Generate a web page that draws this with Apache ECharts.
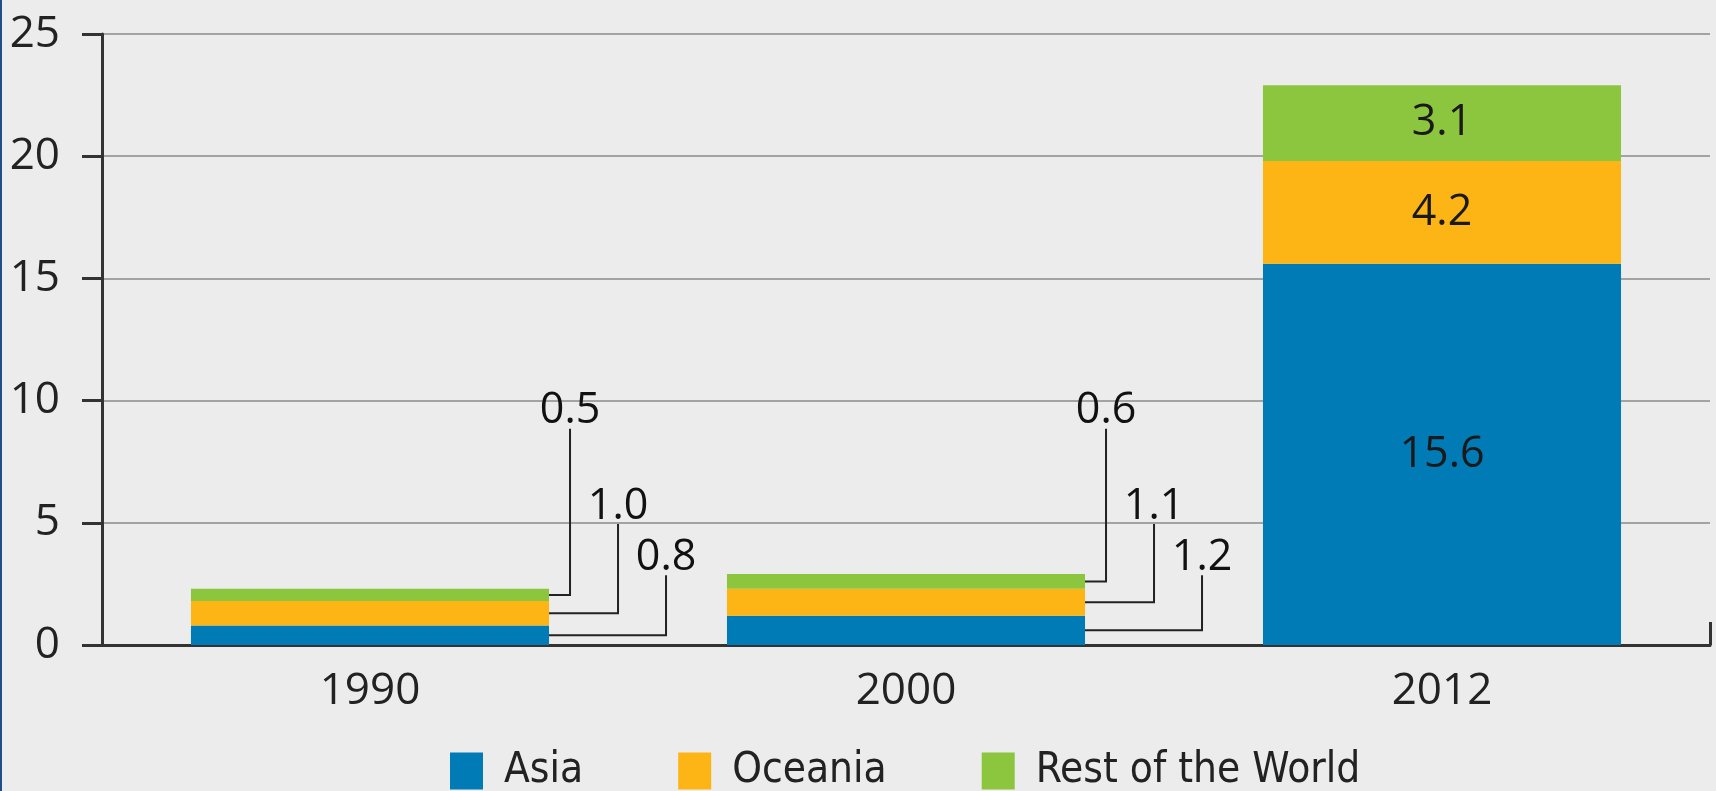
<!DOCTYPE html>
<html>
<head>
<meta charset="utf-8">
<title>Asia, Oceania, Rest of the World</title>
<style>
	html, body { margin: 0; padding: 0; background: #ebeceb; }
	#box { position: relative; width: 1716px; height: 791px; }
	#edge { position: absolute; left: 0; top: 0; width: 2px; height: 791px; background: #1f4e8c; z-index: 5; }
</style>
</head>
<body>
	<div id="edge"></div>
	<div id="box"></div>
<script type="text/javascript" src="https://cdn.jsdelivr.net/npm/echarts@6/dist/echarts.min.js"></script>
<script type="text/javascript">
	var years = ['1990', '2000', '2012'];
	var asia = [0.8, 1.2, 15.6];
	var oceania = [1.0, 1.1, 4.2];
	var rest = [0.5, 0.6, 3.1];
	var seriesNames = ['Asia', 'Oceania', 'Rest of the World'];
	var colors = ['#007bb6', '#fdb515', '#8cc63f'];

	var numFont = '"Open Sans", "Noto Sans", sans-serif';
	var legendFont = '"DejaVu Sans Condensed", "Liberation Sans Narrow", sans-serif';
	var barPct = 0.668;

	// callouts for the two small bars: horizontal shift from bar edge (px) and
	// height (in axis units) where the leader line stops, per series
	var calloutShift = [117, 69, 21];
	var calloutLevel = [2.85, 4.95, 8.85];

	var stacks = [asia, oceania, rest];
	var calloutData = [];
	[0, 1].forEach(function (i) {
		var lo = 0;
		stacks.forEach(function (arr, s) {
			calloutData.push([i, lo, lo + arr[i], s, arr[i]]);
			lo += arr[i];
		});
	});

	function renderCallout(params, api) {
		var cat = api.value(0), lo = api.value(1), hi = api.value(2), s = api.value(3);
		var mid = api.coord([cat, (lo + hi) / 2]);
		var half = api.size([1, 0])[0] * barPct / 2;
		var x0 = mid[0] + half;
		var x1 = x0 + calloutShift[s];
		var yTop = api.coord([cat, calloutLevel[s]])[1];
		return {
			type: 'group',
			children: [{
				type: 'polyline',
				shape: { points: [[x0, mid[1]], [x1, mid[1]], [x1, yTop]] },
				style: { stroke: '#222', lineWidth: 2, fill: null }
			}, {
				type: 'text',
				style: {
					text: api.value(4).toFixed(1),
					x: x1, y: yTop + 4,
					align: 'center', verticalAlign: 'bottom',
					fontFamily: numFont, fontSize: 43, fill: '#111'
				}
			}]
		};
	}

	function barSeries(s) {
		return {
			name: seriesNames[s],
			type: 'bar',
			stack: 'total',
			barWidth: (barPct * 100) + '%',
			itemStyle: { color: colors[s] },
			label: {
				position: 'inside',
				fontFamily: numFont, fontSize: 43, color: '#1a1a1a',
				formatter: function (p) { return p.value.toFixed(1); }
			},
			data: stacks[s].map(function (v, i) {
				return { value: v, label: { show: i === 2 } };
			})
		};
	}

	var dom = document.getElementById('box');
	var myChart = echarts.init(dom);
	myChart.setOption({
		backgroundColor: '#ebeceb',
		animation: false,
		grid: { left: 102, right: 6, top: 34, bottom: 146 },
		legend: {
			data: seriesNames,
			left: 450,
			top: 750,
			padding: 0,
			icon: 'rect',
			itemWidth: 33,
			itemHeight: 37,
			itemGap: 95,
			textStyle: { fontFamily: legendFont, fontSize: 42, color: '#222', padding: [0, 0, 0, 16] }
		},
		xAxis: {
			type: 'category',
			data: years,
			axisLine: { lineStyle: { color: '#333', width: 3 } },
			axisTick: {
				show: true, inside: true, length: 23,
				interval: function (index) { return index === 2; },
				lineStyle: { color: '#333', width: 3 }
			},
			axisLabel: { margin: 24, fontFamily: numFont, fontSize: 44, color: '#222' }
		},
		yAxis: {
			type: 'value',
			min: 0, max: 25, interval: 5,
			axisLine: { show: true, lineStyle: { color: '#333', width: 3 } },
			axisTick: { show: true, length: 20, lineStyle: { color: '#333', width: 3 } },
			axisLabel: { margin: 42, fontFamily: numFont, fontSize: 44, color: '#222' },
			splitLine: { lineStyle: { color: '#a2a3a3', width: 2 } }
		},
		series: [barSeries(0), barSeries(1), barSeries(2), {
			type: 'custom',
			silent: true,
			z: 5,
			renderItem: renderCallout,
			encode: { x: 0, y: [1, 2] },
			data: calloutData
		}]
	});
</script>
</body>
</html>
